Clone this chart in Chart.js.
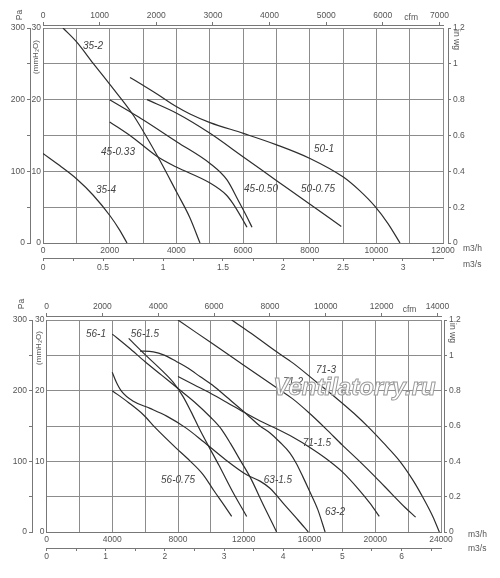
<!DOCTYPE html>
<html>
<head>
<meta charset="utf-8">
<script src="https://cdn.jsdelivr.net/npm/chart.js@4.4.1/dist/chart.umd.min.js"></script>
<style>
  body { margin: 0; background: #fff; }
  .box { position: absolute; left: 0; width: 500px; }
</style>
</head>
<body>
<div class="box" style="top:0;height:280px"><canvas id="upper" width="500" height="280"></canvas></div>
<div class="box" style="top:280px;height:298px"><canvas id="lower" width="500" height="298"></canvas></div>
<script>
// Fan curves: [flow m3/h, static pressure Pa]
// upper chart, 35 / 45 / 50 series
const fan35_2   = [[600,300],[1020,280],[1500,251],[2010,221],[2700,179],[3450,120],[4020,70],[4400,36],[4710,0]];
const fan35_4   = [[0,125],[500,108],[1020,89],[1500,67],[2010,38],[2300,18],[2520,0]];
const fan45_033 = [[2000,169],[2700,147],[3450,120],[4000,106],[5000,84],[5500,67],[5700,55],[5950,36],[6120,22]];
const fan45_050 = [[2000,200],[2610,183],[3000,172],[4020,141],[5010,111],[5520,88],[5850,60],[6100,38],[6270,22]];
const fan50_075 = [[3120,200],[4010,181],[5010,153],[6010,120],[7010,87],[8010,54],[8950,23]];
const fan50_1   = [[2610,231],[3000,220],[3420,208],[4010,190],[4410,180],[5010,168],[6010,153],[7010,137],[8010,118],[9010,92],[9500,73],[9960,51],[10350,27],[10710,0]];

// lower chart, 56 / 63 / 71 series
const fan56_075 = [[4000,200],[5000,183],[5890,166],[6600,148],[7920,118],[8528,105],[9538,81],[10200,58],[10800,38],[11265,22]];
const fan56_1   = [[4000,280],[5000,261],[6000,241],[7000,222],[8000,203],[9000,184],[10000,162],[10657,145],[11200,125],[11800,101],[12380,78],[13200,38],[14000,0]];
const fan56_15  = [[5000,274],[6000,251],[7000,229],[7700,212],[8300,192],[8800,170],[9300,146],[9800,124],[10500,94],[11300,58],[12178,22]];
const fan63_15  = [[4000,226],[4250,212],[4570,199],[5280,185],[6300,175],[7312,164],[8500,147],[9538,128],[10800,104],[12178,81],[12988,72],[13595,62],[14500,38],[15300,17],[15925,0]];
const fan63_2   = [[5690,256],[6500,255],[7200,250],[7920,241],[8600,232],[9338,220],[10200,206],[10960,191],[11970,171],[12400,162],[12988,150],[13600,140],[14203,127],[14800,112],[15200,97],[15600,78],[16000,58],[16500,32],[16950,0]];
const fan71_15  = [[8000,220],[9000,208],[10000,196],[11000,183],[11970,170],[13000,157],[14000,146],[15000,134],[16000,120],[17000,104],[18000,85],[19000,60],[19700,40],[20245,22]];
const fan71_2   = [[8000,300],[10000,268],[12000,236],[14000,204],[15000,188],[16000,168],[17000,146],[18000,123],[19000,101],[20000,78],[21000,54],[21800,35],[22457,21]];
const fan71_3   = [[11265,300],[12400,282],[14000,255],[15000,239],[16435,212],[17653,189],[18700,168],[19600,148],[20500,126],[21500,100],[22300,73],[22920,48],[23500,22],[23900,0]];

// curve labels (name, flow, pressure where the text sits)
const upperNames = ['35-2', '45-0.33', '35-4', '45-0.50', '50-0.75', '50-1'];
const upperLabelQ = [1500, 2250, 1890, 6540, 8250, 8430];
const upperLabelP = [275, 126, 74, 75, 75, 131];

const lowerNames = ['56-1', '56-1.5', '56-0.75', '63-1.5', '63-2', '71-1.5', '71-2', '71-3'];
const lowerLabelQ = [3010, 5990, 8000, 14080, 17550, 16450, 15000, 17000];
const lowerLabelP = [280, 280, 73, 73, 28, 125, 212, 229];

// top axis tick labels (cfm)
const upperCfmTicks = [0, 1000, 2000, 3000, 4000, 5000, 6000, 7000];
const lowerCfmTicks = [0, 2000, 4000, 6000, 8000, 10000, 12000, 14000];

const M3H_PER_CFM = 1.69901;
const ink = '#555';
const gridColor = '#8c8c8c';
const tickFont = { family: 'Liberation Sans', size: 8.5 };

const near = x => Math.abs(x - Math.round(x)) < 1e-6;
const fmt = v => String(Number(v.toFixed(2)));

// units, axis titles, curve names, watermark
const extras = {
  id: 'extras',
  afterDatasetsDraw(chart, args, o) {
    const ctx = chart.ctx, a = chart.chartArea;
    const sx = chart.scales.x, sy = chart.scales.pa, sc = chart.scales.cfm;
    ctx.save();
    ctx.fillStyle = '#444';
    ctx.textAlign = 'center';
    ctx.textBaseline = 'middle';
    ctx.font = 'italic 10px "Liberation Sans"';
    o.names.forEach((n, i) => {
      ctx.fillText(n, sx.getPixelForValue(o.q[i]), sy.getPixelForValue(o.p[i]));
    });

    ctx.fillStyle = ink;
    const rot = (txt, x, y, ang, font) => {
      ctx.save();
      ctx.translate(x, y);
      ctx.rotate(ang);
      ctx.font = font;
      ctx.fillText(txt, 0, 0);
      ctx.restore();
    };
    rot('Pa', a.left + o.pa[0], a.top + o.pa[1], -Math.PI / 2, '8.5px "Liberation Sans"');
    rot('(mmH\u2082O)', a.left + o.mm[0], a.top + o.mm[1], -Math.PI / 2, '8px "Liberation Sans"');
    rot('in wg', a.right + o.wg[0], a.top + o.wg[1], Math.PI / 2, '8.5px "Liberation Sans"');

    ctx.font = '8.5px "Liberation Sans"';
    ctx.fillText('cfm', sc.getPixelForValue(o.cfmAt), a.top - o.cfmDy);
    ctx.textAlign = 'left';
    ctx.fillText('m3/h', a.right + o.mh[0], a.bottom + o.mh[1]);
    ctx.fillText('m3/s', a.right + o.ms[0], a.bottom + o.ms[1]);

    if (o.mark) {
      ctx.textAlign = 'center';
      ctx.font = 'italic bold 24px "Liberation Sans"';
      ctx.lineWidth = 1;
      ctx.fillStyle = 'rgba(255,255,255,0.85)';
      ctx.strokeStyle = '#9a9a9a';
      ctx.fillText(o.mark, a.left + o.markAt[0], a.top + o.markAt[1]);
      ctx.strokeText(o.mark, a.left + o.markAt[0], a.top + o.markAt[1]);
    }
    ctx.restore();
  }
};

function makeChart(id, c) {
  const datasets = c.curves.map(pts => ({
    data: pts.map(([q, p]) => ({ x: q, y: p })),
    showLine: true,
    borderColor: '#2e2e2e',
    borderWidth: 1.2,
    pointRadius: 0,
    cubicInterpolationMode: 'monotone',
    xAxisID: 'x',
    yAxisID: 'pa'
  }));

  const side = { color: '#777', width: 1 };

  new Chart(document.getElementById(id), {
    type: 'scatter',
    data: { datasets },
    options: {
      responsive: false,
      animation: false,
      layout: { padding: 0 },
      plugins: {
        legend: { display: false },
        tooltip: { enabled: false },
        extras: c.extras
      },
      scales: {
        x: {
          type: 'linear', position: 'bottom', min: 0, max: c.qMax,
          ticks: { stepSize: c.qGrid, autoSkip: false, maxRotation: 0, padding: 3, color: ink, font: tickFont,
                   callback: v => v % c.qLabel === 0 ? String(v) : '' },
          grid: { color: gridColor, lineWidth: 1, drawTicks: false },
          border: side,
          afterFit: s => { s.height = c.hX; }
        },
        ms: {
          type: 'linear', position: 'bottom', min: 0, max: c.qMax / 3600,
          ticks: { stepSize: c.msStep, includeBounds: false, autoSkip: false, maxRotation: 0, padding: c.msPad,
                   color: ink, font: tickFont, callback: v => near(v / c.msLabel) ? fmt(v) : '' },
          grid: { display: true, drawOnChartArea: false, tickLength: 3, color: '#777' },
          border: side,
          afterFit: s => { s.height = c.hMs; }
        },
        mm: {
          type: 'linear', position: 'left', min: 0, max: 30,
          ticks: { stepSize: 5, autoSkip: false, padding: 2, color: ink, font: tickFont,
                   callback: v => v % 10 === 0 ? String(v) : '' },
          grid: { color: gridColor, lineWidth: 1, drawTicks: false },
          border: side,
          afterFit: s => { s.width = c.wMm; }
        },
        pa: {
          type: 'linear', position: 'left', min: 0, max: 300,
          ticks: { stepSize: 50, autoSkip: false, padding: 2, color: ink, font: tickFont,
                   callback: v => v % 100 === 0 ? String(v) : '' },
          grid: { display: true, drawOnChartArea: false, tickLength: 3, color: '#777' },
          border: side,
          afterFit: s => { s.width = c.wPa; }
        },
        gapT: {
          type: 'linear', position: 'top', min: 0, max: 1,
          ticks: { display: false }, grid: { display: false }, border: { display: false },
          afterFit: s => { s.height = c.gapT; }
        },
        cfm: {
          type: 'linear', position: 'top', min: 0, max: c.qMax / M3H_PER_CFM,
          ticks: { autoSkip: false, maxRotation: 0, padding: 1,
                   color: ink, font: tickFont, callback: v => String(Math.round(v)) },
          grid: { display: true, drawOnChartArea: false, tickLength: 3, color: '#777' },
          border: side,
          afterBuildTicks: s => { s.ticks = c.cfmTicks.map(v => ({ value: v })); },
          afterFit: s => { s.height = c.hCfm; }
        },
        gapR: {
          type: 'linear', position: 'right', min: 0, max: 1,
          ticks: { display: false }, grid: { display: false }, border: { display: false },
          afterFit: s => { s.width = c.gapR; }
        },
        inwg: {
          type: 'linear', position: 'right', min: 0, max: 1.2,
          ticks: { stepSize: 0.2, autoSkip: false, padding: 2, color: ink, font: tickFont, callback: v => fmt(v) },
          grid: { display: true, drawOnChartArea: false, tickLength: 3, color: '#777' },
          border: side,
          afterFit: s => { s.width = c.wWg; }
        }
      }
    },
    plugins: [extras]
  });
}

makeChart('upper', {
  curves: [fan35_2, fan35_4, fan45_033, fan45_050, fan50_075, fan50_1],
  qMax: 12000, qGrid: 1000, qLabel: 2000,
  msStep: 0.25, msLabel: 0.5, msPad: 2, cfmTicks: upperCfmTicks,
  hX: 15, hMs: 22, gapT: 3, hCfm: 25,
  wPa: 30, wMm: 13, gapR: 5, wWg: 52,
  extras: {
    names: upperNames, q: upperLabelQ, p: upperLabelP,
    pa: [-23, -13], mm: [-7.5, 29], wg: [13, 12],
    cfmAt: 6500, cfmDy: 10, mh: [20, 6], ms: [20, 22]
  }
});

makeChart('lower', {
  curves: [fan56_075, fan56_1, fan56_15, fan63_15, fan63_2, fan71_15, fan71_2, fan71_3],
  qMax: 24000, qGrid: 2000, qLabel: 4000,
  msStep: 0.5, msLabel: 1, msPad: 1, cfmTicks: lowerCfmTicks,
  hX: 16, hMs: 30, gapT: 4, hCfm: 36,
  wPa: 32, wMm: 14.5, gapR: 3, wWg: 56,
  extras: {
    names: lowerNames, q: lowerLabelQ, p: lowerLabelP,
    pa: [-25, -16], mm: [-8, 28], wg: [11.5, 13],
    cfmAt: 13000, cfmDy: 10, mh: [27, 3], ms: [27, 16.5],
    mark: 'Ventilatorry.ru', markAt: [308, 68]
  }
});
</script>
</body>
</html>
